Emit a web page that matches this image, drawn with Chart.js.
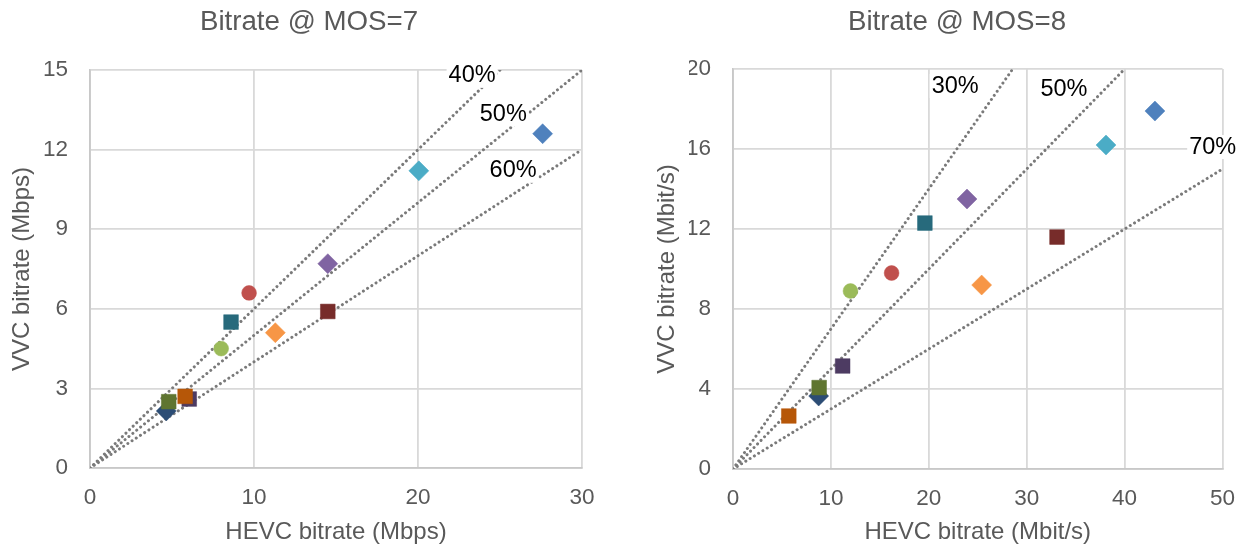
<!DOCTYPE html>
<html>
<head>
<meta charset="utf-8">
<script src="https://cdn.jsdelivr.net/npm/chart.js@4.4.1/dist/chart.umd.min.js"></script>
<style>
html, body { margin: 0; padding: 0; background: #fff; overflow: hidden; }
#wrap { position: relative; width: 1251px; height: 547px; overflow: hidden; }
.box { position: absolute; top: 0; }
#box7 { left: 0; }
#box8 { left: 640px; }
</style>
</head>
<body>
<div id="wrap">
  <div class="box" id="box7"><canvas id="mos7" width="620" height="547"></canvas></div>
  <div class="box" id="box8"><canvas id="mos8" width="611" height="547"></canvas></div>
</div>
<script>
// series (test sequences), in the order they were plotted
const seriesNames = ['Seq 1', 'Seq 2', 'Seq 3', 'Seq 4', 'Seq 5', 'Seq 6',
                     'Seq 7', 'Seq 8', 'Seq 9', 'Seq 10', 'Seq 11', 'Seq 12'];

// bitrate @ MOS=7 (Mbps)
const hevcMos7 = [27.6, 9.7, 8.0, 14.5, 20.05, 11.3, 4.65, 14.5, 4.8, 6.05, 8.6, 5.8];
const vvcMos7  = [12.6, 6.6, 4.5, 7.7, 11.2, 5.1, 2.15, 5.9, 2.5, 2.6, 5.5, 2.7];

// bitrate @ MOS=8 (Mbit/s)
const hevcMos8 = [43.1, 16.2, 12.0, 23.9, 38.1, 25.4, 8.75, 33.1, 8.8, 11.2, 19.6, 5.7];
const vvcMos8  = [17.9, 9.8, 8.9, 13.5, 16.2, 9.2, 3.65, 11.6, 4.07, 5.15, 12.3, 2.65];

// bitrate saving guides: label and end point [hevc, vvc] of the line from the origin
const guideNames7 = ['40%', '50%', '60%'];
const guideEnds7 = [[25, 15], [30, 15], [30, 12]];
const guideNames8 = ['30%', '50%', '70%'];
const guideEnds8 = [[28.57, 20], [40, 20], [50, 15]];

// marker look for each series
const markerColors = ['#4F81BD', '#C0504D', '#9BBB59', '#8064A2', '#4BACC6', '#F79646',
                      '#2C4D75', '#772C2A', '#5F7530', '#4D3B62', '#276A7C', '#B65708'];
const markerShapes = ['rectRot', 'circle', 'circle', 'rectRot', 'rectRot', 'rectRot',
                      'rectRot', 'rect', 'rect', 'rect', 'rect', 'rect'];

Chart.defaults.font.family = "'Liberation Sans', Arial, sans-serif";
Chart.defaults.color = '#595959';

// draws the "xx%" captions next to the guide lines
const guideLabels = {
    id: 'guideLabels',
    afterDatasetsDraw(chart, args, opts) {
        const { ctx, scales: { x, y } } = chart;
        ctx.save();
        ctx.font = "23.5px 'Liberation Sans', Arial, sans-serif";
        ctx.textAlign = 'center';
        ctx.textBaseline = 'middle';
        opts.items.forEach(it => {
            const px = x.getPixelForValue(it.at[0]);
            const py = y.getPixelForValue(it.at[1]);
            const w = ctx.measureText(it.text).width;
            ctx.fillStyle = '#fff';
            ctx.fillRect(px - w / 2 - 2, py - 12, w + 4, 24);
            ctx.fillStyle = '#000';
            ctx.fillText(it.text, px, py);
        });
        ctx.restore();
    }
};

function makeChart(id, o) {
    const datasets = [];
    o.guideEnds.forEach((end, i) => {
        datasets.push({
            type: 'line',
            label: o.guideNames[i],
            data: [{ x: 0, y: 0 }, { x: end[0], y: end[1] }],
            borderColor: '#7A7A7A',
            borderWidth: 3,
            borderDash: [0.01, 5],
            borderCapStyle: 'round',
            pointRadius: 0,
            fill: false,
            order: 100
        });
    });
    seriesNames.forEach((name, i) => {
        const shape = markerShapes[i];
        datasets.push({
            type: 'scatter',
            label: name,
            data: [{ x: o.hevc[i], y: o.vvc[i] }],
            pointStyle: shape,
            pointRadius: shape === 'circle' ? 7.4 : shape === 'rect' ? 10.4 : 10,
            backgroundColor: markerColors[i],
            borderColor: markerColors[i],
            borderWidth: 0.5,
            order: seriesNames.length - i
        });
    });

    return new Chart(document.getElementById(id), {
        data: { datasets },
        options: {
            responsive: false,
            animation: false,
            layout: { padding: { left: o.padLeft, right: o.padRight, top: 0, bottom: 0 } },
            scales: {
                x: {
                    type: 'linear',
                    min: 0, max: o.xMax,
                    afterFit: s => { s.height = o.xAxisHeight; },
                    ticks: { stepSize: 10, padding: 16, font: { size: 22.5 }, color: '#595959' },
                    grid: { color: '#D9D9D9', lineWidth: 1.8, drawTicks: false },
                    border: { color: '#C8C8C8', width: 1.8 },
                    title: { display: true, text: o.xTitle, font: { size: 24 }, color: '#595959', padding: { top: 3, bottom: 0 } }
                },
                y: {
                    type: 'linear',
                    min: 0, max: o.yMax,
                    afterFit: s => { s.width = o.yAxisWidth; },
                    ticks: { stepSize: o.yStep, padding: 22, font: { size: 22.5 }, color: '#595959' },
                    grid: { color: '#D9D9D9', lineWidth: 1.8, drawTicks: false },
                    border: { color: '#C8C8C8', width: 1.8 },
                    title: { display: true, text: o.yTitle, font: { size: 24 }, color: '#595959', padding: { top: o.yTitlePad, bottom: 0 } }
                }
            },
            plugins: {
                legend: { display: false },
                tooltip: { enabled: false },
                title: {
                    display: true,
                    text: o.title,
                    color: '#595959',
                    font: { size: 27.7, weight: 'normal' },
                    padding: { top: 6, bottom: o.titleGap }
                },
                guideLabels: { items: o.labels }
            }
        },
        plugins: [guideLabels]
    });
}

makeChart('mos7', {
    title: 'Bitrate @ MOS=7',
    xTitle: 'HEVC bitrate (Mbps)',
    yTitle: 'VVC bitrate (Mbps)',
    hevc: hevcMos7, vvc: vvcMos7,
    guideNames: guideNames7, guideEnds: guideEnds7,
    xMax: 30, yMax: 15, yStep: 3,
    padLeft: 36, padRight: 38, xAxisHeight: 79, yAxisWidth: 54, yTitlePad: -28.4, titleGap: 30.8,
    labels: [
        { text: guideNames7[0], at: [23.3, 14.78] },
        { text: guideNames7[1], at: [25.2, 13.34] },
        { text: guideNames7[2], at: [25.8, 11.2] }
    ]
});

makeChart('mos8', {
    title: 'Bitrate @ MOS=8',
    xTitle: 'HEVC bitrate (Mbit/s)',
    yTitle: 'VVC bitrate (Mbit/s)',
    hevc: hevcMos8, vvc: vvcMos8,
    guideNames: guideNames8, guideEnds: guideEnds8,
    xMax: 50, yMax: 20, yStep: 4,
    padLeft: 49, padRight: 26, xAxisHeight: 78, yAxisWidth: 44, yTitlePad: -36.4, titleGap: 29.8,
    labels: [
        { text: guideNames8[0], at: [22.7, 19.15] },
        { text: guideNames8[1], at: [33.8, 19.0] },
        { text: guideNames8[2], at: [49.0, 16.1] }
    ]
});
</script>
</body>
</html>
